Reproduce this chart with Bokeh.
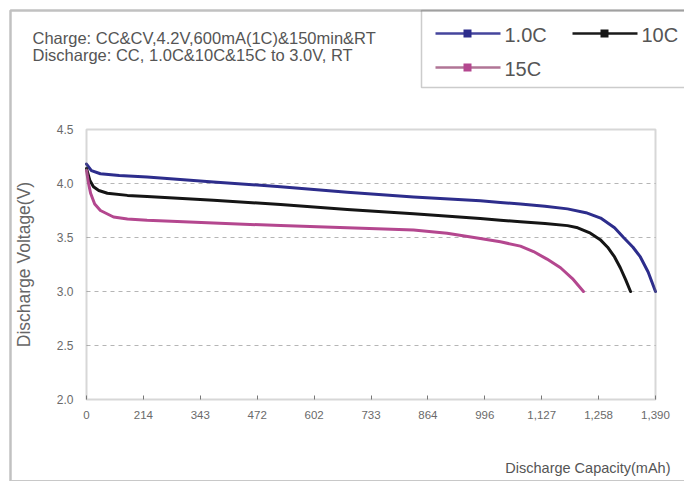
from bokeh.plotting import figure
from bokeh.models import Range1d, Label, BoxAnnotation, FixedTicker
from bokeh.embed import file_html
from bokeh.resources import INLINE

# ---------------- data ----------------
cap_1c = [0, 12, 34, 80, 148, 310, 474, 637, 799, 962, 1011, 1060, 1120, 1175, 1220, 1256,
          1290, 1312, 1335, 1353, 1372, 1390]
v_1c = [4.18, 4.12, 4.09, 4.075, 4.06, 4.015, 3.97, 3.92, 3.876, 3.84, 3.825, 3.81, 3.79, 3.765, 3.73, 3.68,
        3.59, 3.50, 3.41, 3.32, 3.18, 3.0]

cap_10c = [0, 8, 17, 30, 51, 100, 148, 310, 474, 637, 799, 962, 1011, 1060, 1120, 1175, 1200,
           1231, 1255, 1273, 1290, 1304, 1317, 1329]
v_10c = [4.14, 4.03, 3.97, 3.935, 3.91, 3.89, 3.88, 3.845, 3.805, 3.76, 3.72, 3.676, 3.66, 3.645, 3.63, 3.61, 3.59,
         3.54, 3.48, 3.41, 3.32, 3.22, 3.11, 3.0]

cap_15c = [0, 5, 10, 20, 34, 66, 100, 148, 310, 474, 637, 799, 881, 962, 1011, 1060, 1092,
           1125, 1158, 1187, 1214]
v_15c = [4.12, 4.0, 3.91, 3.81, 3.75, 3.69, 3.672, 3.66, 3.635, 3.61, 3.59, 3.57, 3.54, 3.49, 3.46, 3.42, 3.37,
         3.30, 3.22, 3.12, 3.0]

series_names = ["1.0C", "10C", "15C"]
series_colors = ["#2d2d8c", "#151515", "#b4478f"]

x_tick_pos = [0, 139, 278, 417, 556, 695, 834, 973, 1112, 1251, 1390]
x_tick_labels = ["0", "214", "343", "472", "602", "733", "864", "996", "1,127", "1,258", "1,390"]
y_ticks = [2.0, 2.5, 3.0, 3.5, 4.0, 4.5]
y_grid = [2.5, 3.0, 3.5, 4.0]

header_lines = ["Charge: CC&CV,4.2V,600mA(1C)&150min&RT",
                "Discharge: CC, 1.0C&10C&15C to 3.0V, RT"]

FONT = "Liberation Sans"

# ---------------- layout geometry (canvas pixels) ----------------
W, H = 684, 481
PL, PR, PT, PB = 86, 655, 129, 399          # plot area box in canvas pixels
X0, X1 = 0, 1390
Y0, Y1 = 2.0, 4.5
sx = (PR - PL) / (X1 - X0)
sy = (PB - PT) / (Y1 - Y0)

def dx(px):
    return X0 + (px - PL) / sx

def dy(py):
    return Y0 + (PB - py) / sy

p = figure(width=W, height=H, min_border=0,
           x_range=Range1d(dx(0), dx(W)), y_range=Range1d(dy(H), dy(0)),
           output_backend="svg", toolbar_location=None)
p.background_fill_color = "white"
p.border_fill_color = "white"
p.outline_line_color = None
p.xgrid.visible = False
p.ygrid.visible = False

# ---------------- axes (pinned to the plot box) ----------------
xa = p.xaxis[0]
xa.fixed_location = Y0
xa.bounds = (X0, X1)
xa.ticker = FixedTicker(ticks=x_tick_pos)
xa.major_label_overrides = {t: l for t, l in zip(x_tick_pos, x_tick_labels)}
xa.major_tick_in = 4
xa.major_tick_out = 0
xa.major_tick_line_color = "#777777"
xa.minor_tick_line_color = None
xa.axis_line_color = None
xa.major_label_text_font = FONT
xa.major_label_text_font_size = "11.5px"
xa.major_label_text_color = "#6a6a6a"
xa.major_label_standoff = 11

ya = p.yaxis[0]
ya.fixed_location = X0
ya.bounds = (Y0, Y1)
ya.ticker = FixedTicker(ticks=y_ticks)
ya.major_label_overrides = {t: f"{t:.1f}" for t in y_ticks}
ya.major_tick_in = 0
ya.major_tick_out = 0
ya.minor_tick_line_color = None
ya.axis_line_color = None
ya.major_label_text_font = FONT
ya.major_label_text_font_size = "12px"
ya.major_label_text_color = "#6a6a6a"
ya.major_label_standoff = 13
ya.axis_label = "Discharge Voltage(V)"
ya.axis_label_text_font = FONT
ya.axis_label_text_font_size = "17.5px"
ya.axis_label_text_font_style = "normal"
ya.axis_label_text_color = "#666666"
ya.axis_label_standoff = 20

# dashed horizontal grid lines inside the plot box
p.segment(x0=[X0] * len(y_grid), x1=[X1] * len(y_grid), y0=y_grid, y1=y_grid,
          line_color="#b5b5b5", line_dash="4 4", line_width=1.2)

# plot box
p.add_layout(BoxAnnotation(left=X0, right=X1, bottom=Y0, top=Y1,
                           fill_color=None, line_color="#7a7a7a", line_width=2))

# curves
for xs, ys, c in zip([cap_1c, cap_10c, cap_15c], [v_1c, v_10c, v_15c], series_colors):
    p.line(xs, ys, line_color=c, line_width=3, line_join="round", line_cap="round")

# outer frame and legend box
p.add_layout(BoxAnnotation(left=dx(10), right=dx(730), top=dy(10), bottom=dy(500),
                           fill_color=None, line_color="#333333", line_width=2.5))
p.add_layout(BoxAnnotation(left=dx(10), right=dx(730), top=dy(479.5), bottom=dy(481),
                           fill_color="#c8c8c8", fill_alpha=1, line_color=None))
p.add_layout(BoxAnnotation(left=dx(421), right=dx(730), top=dy(10), bottom=dy(87),
                           fill_color=None, line_color="#555555", line_width=1.5))

# header text
for i, t in enumerate(header_lines):
    p.add_layout(Label(x=dx(32), y=dy(37 + 17 * i), text=t, text_baseline="middle",
                       text_font=FONT, text_font_size="16.5px", text_color="#555555"))

# legend (drawn by hand)
legend_pos = [(435, 33), (572, 33), (435, 67)]
legend_line_colors = ["#45459c", "#1a1a1a", "#b07596"]
for (lx, ly), name, c, lc in zip(legend_pos, series_names, series_colors, legend_line_colors):
    p.add_layout(BoxAnnotation(left=dx(lx), right=dx(lx + 65), top=dy(ly - 1.2), bottom=dy(ly + 1.2),
                               fill_color=lc, fill_alpha=1, line_color=None))
    mx = lx + 32
    p.add_layout(BoxAnnotation(left=dx(mx - 4), right=dx(mx + 4), top=dy(ly - 4), bottom=dy(ly + 4),
                               fill_color=c, fill_alpha=1, line_color=None))
    p.add_layout(Label(x=dx(lx + 69), y=dy(ly + 1), text=name, text_baseline="middle",
                       text_font=FONT, text_font_size="20px", text_color="#555555"))

# x axis title (bottom right)
p.add_layout(Label(x=dx(670), y=dy(467), text="Discharge Capacity(mAh)", text_align="right",
                   text_baseline="middle", text_font=FONT, text_font_size="14.5px",
                   text_color="#555555"))

open("out.html", "w").write(file_html(p, INLINE))
